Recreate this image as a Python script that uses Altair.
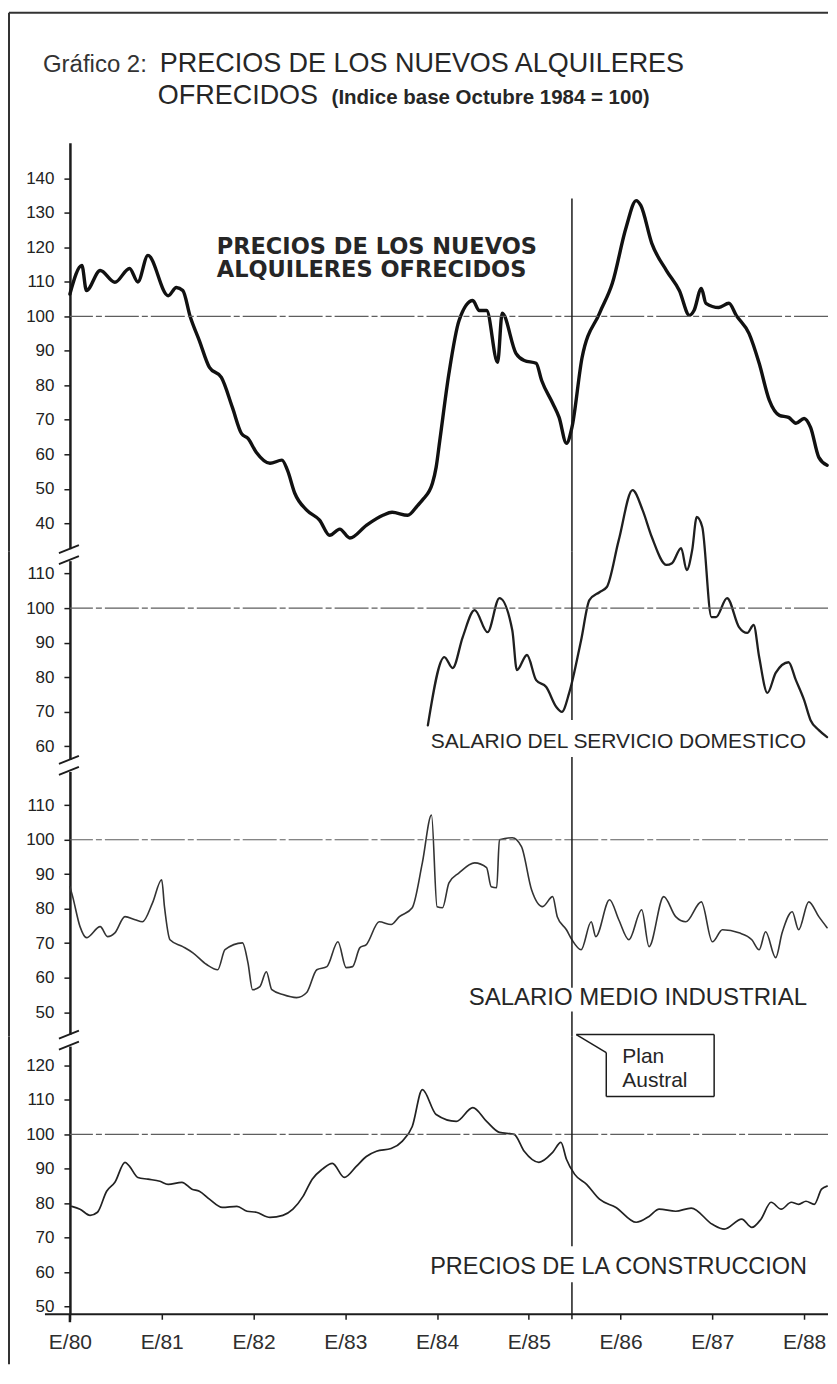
import altair as alt
import pandas as pd

# ---------------- data ----------------
year_ticks = [1980, 1981, 1982, 1983, 1984, 1985, 1986, 1987, 1988]
year_labels = ["E/80", "E/81", "E/82", "E/83", "E/84", "E/85", "E/86", "E/87", "E/88"]
plan_austral = 1985.47

alq_t = [1980.00, 1980.13, 1980.18, 1980.33, 1980.49, 1980.65, 1980.74, 1980.85, 1981.07, 1981.16,
         1981.23, 1981.31, 1981.41, 1981.52, 1981.65, 1981.77, 1981.87, 1981.94, 1982.03, 1982.18,
         1982.31, 1982.37, 1982.45, 1982.58, 1982.72, 1982.83, 1982.94, 1983.05, 1983.23, 1983.41,
         1983.51, 1983.68, 1983.79, 1983.84, 1983.95, 1983.99, 1984.03, 1984.13, 1984.24, 1984.39,
         1984.46, 1984.54, 1984.66, 1984.71, 1984.86, 1984.95, 1985.08, 1985.14, 1985.26, 1985.33,
         1985.41, 1985.47, 1985.58, 1985.77, 1985.91, 1986.06, 1986.17, 1986.22, 1986.34, 1986.50,
         1986.64, 1986.75, 1986.80, 1986.88, 1986.93, 1987.07, 1987.18, 1987.26, 1987.40, 1987.51,
         1987.62, 1987.73, 1987.83, 1987.91, 1988.00, 1988.07, 1988.16, 1988.25]
alq_v = [106.5, 114.8, 107.5, 113.3, 109.9, 113.9, 110.0, 117.7, 106.0, 108.4,
         107.5, 100.0, 93.0, 85.2, 82.3, 73.6, 66.0, 64.6, 60.6, 57.4,
         58.3, 55.4, 48.7, 43.8, 40.9, 36.5, 38.3, 35.7, 39.4, 42.3,
         43.2, 42.3, 45.2, 46.7, 51.6, 56.2, 64.0, 83.5, 98.8, 104.6,
         101.7, 101.7, 86.7, 100.9, 89.3, 87.2, 86.4, 81.4, 74.8, 70.7,
         63.2, 67.8, 88.0, 100.9, 109.6, 125.8, 133.6, 132.2, 121.2, 113.3,
         107.5, 100.3, 101.7, 108.1, 103.8, 102.6, 103.8, 100.3, 95.0, 86.4,
         75.7, 71.3, 70.7, 69.0, 70.4, 67.8, 59.1, 56.8]

dom_t = [1983.90, 1984.08, 1984.17, 1984.28, 1984.41, 1984.55, 1984.68, 1984.82, 1984.87, 1984.98,
         1985.08, 1985.19, 1985.30, 1985.36, 1985.44, 1985.57, 1985.66, 1985.77, 1985.85, 1985.98,
         1986.13, 1986.24, 1986.34, 1986.50, 1986.56, 1986.66, 1986.72, 1986.78, 1986.83, 1986.89,
         1986.99, 1987.04, 1987.16, 1987.29, 1987.38, 1987.45, 1987.51, 1987.60, 1987.69, 1987.83,
         1987.91, 1988.00, 1988.07, 1988.16, 1988.25]
dom_v = [66.0, 85.8, 82.6, 91.6, 99.4, 93.0, 102.9, 93.6, 82.0, 86.4,
         79.1, 77.1, 71.3, 69.9, 75.4, 90.7, 102.3, 104.6, 106.1, 119.7,
         134.2, 128.4, 120.6, 112.5, 113.0, 117.4, 111.0, 116.8, 126.4, 123.5,
         97.4, 97.4, 102.9, 94.5, 92.8, 95.1, 85.8, 75.4, 81.2, 84.3,
         79.1, 73.3, 67.5, 64.6, 62.6]

ind_t = [1980.00, 1980.03, 1980.11, 1980.18, 1980.33, 1980.41, 1980.49, 1980.60, 1980.71, 1980.79,
         1980.90, 1981.00, 1981.03, 1981.09, 1981.23, 1981.34, 1981.49, 1981.61, 1981.69, 1981.88,
         1981.94, 1981.99, 1982.07, 1982.14, 1982.20, 1982.32, 1982.47, 1982.58, 1982.69, 1982.80,
         1982.92, 1983.01, 1983.08, 1983.16, 1983.23, 1983.37, 1983.50, 1983.59, 1983.73, 1983.84,
         1983.94, 1984.00, 1984.06, 1984.13, 1984.24, 1984.41, 1984.54, 1984.59, 1984.65, 1984.68,
         1984.82, 1984.92, 1985.03, 1985.15, 1985.26, 1985.31, 1985.41, 1985.47, 1985.57, 1985.68,
         1985.73, 1985.88, 1985.98, 1986.09, 1986.23, 1986.31, 1986.47, 1986.60, 1986.71, 1986.88,
         1987.00, 1987.11, 1987.29, 1987.43, 1987.51, 1987.58, 1987.69, 1987.76, 1987.87, 1987.94,
         1988.05, 1988.16, 1988.25]
ind_v = [86.4, 83.5, 74.8, 71.6, 74.8, 71.9, 73.0, 77.7, 76.8, 76.2,
         81.7, 88.4, 80.6, 71.0, 69.0, 67.2, 63.8, 62.3, 68.1, 70.1,
         64.3, 56.5, 57.4, 61.7, 56.5, 55.1, 54.2, 55.7, 62.3, 63.2,
         70.4, 62.9, 63.2, 68.7, 69.6, 76.2, 75.4, 77.7, 80.3, 93.3,
         107.2, 80.6, 80.3, 87.5, 90.4, 93.3, 91.9, 86.4, 86.1, 100.0,
         100.6, 98.0, 85.5, 80.6, 83.5, 77.7, 73.9, 71.0, 68.1, 76.2,
         71.9, 82.6, 76.8, 71.0, 79.7, 69.0, 83.5, 77.7, 76.2, 82.0,
         70.4, 73.9, 73.0, 71.0, 68.1, 73.3, 65.8, 73.0, 79.1, 73.9,
         82.0, 77.7, 74.5]

con_t = [1980.02, 1980.11, 1980.22, 1980.30, 1980.40, 1980.49, 1980.60, 1980.65, 1980.74, 1980.85,
         1980.98, 1981.07, 1981.22, 1981.33, 1981.41, 1981.52, 1981.66, 1981.82, 1981.93, 1982.03,
         1982.18, 1982.32, 1982.43, 1982.54, 1982.64, 1982.75, 1982.86, 1982.99, 1983.12, 1983.23,
         1983.34, 1983.50, 1983.62, 1983.73, 1983.84, 1983.99, 1984.21, 1984.39, 1984.54, 1984.68,
         1984.84, 1984.95, 1985.11, 1985.26, 1985.35, 1985.41, 1985.50, 1985.63, 1985.77, 1985.95,
         1986.17, 1986.31, 1986.42, 1986.60, 1986.77, 1987.00, 1987.13, 1987.32, 1987.43, 1987.53,
         1987.64, 1987.75, 1987.86, 1987.94, 1988.02, 1988.11, 1988.19, 1988.25]
con_v = [79.1, 78.3, 76.5, 77.4, 83.5, 86.1, 91.9, 90.7, 87.5, 87.0,
         86.4, 85.5, 86.1, 84.1, 83.5, 81.2, 78.8, 79.1, 77.7, 77.4,
         75.9, 76.5, 78.3, 82.0, 87.0, 89.9, 91.6, 87.5, 90.7, 93.6,
         95.1, 95.9, 98.0, 102.3, 113.0, 105.8, 103.8, 107.8, 103.8, 100.6,
         100.0, 95.1, 91.9, 94.8, 97.7, 92.8, 88.4, 85.5, 81.2, 78.8,
         74.5, 76.2, 78.3, 77.7, 78.6, 73.9, 72.5, 75.4, 73.0, 75.4,
         80.3, 78.3, 80.3, 79.7, 80.6, 79.7, 84.1, 85.0]

alq_ticks = [40, 50, 60, 70, 80, 90, 100, 110, 120, 130, 140]
dom_ticks = [60, 70, 80, 90, 100, 110]
ind_ticks = [50, 60, 70, 80, 90, 100, 110]
con_ticks = [50, 60, 70, 80, 90, 100, 110, 120]

# ---------------- layout / style ----------------
FONT = "Liberation Sans"
INK = "#1c1c1c"
W = 759
X_DOMAIN = [1980.0, 1988.26]
ONE = pd.DataFrame({"o": [0]})

label_expr = "[" + ",".join("'%s'" % s for s in year_labels) + "][round(datum.value) - 1980]"


def seg(x1, y1, x2, y2, color=INK, w=1.5):
    return alt.Chart(ONE).mark_rule(color=color, strokeWidth=w).encode(
        x=alt.value(x1), y=alt.value(y1), x2=alt.value(x2), y2=alt.value(y2))


def label(text, x, y, size, align="left", weight="normal", color="#262626", font=FONT):
    return alt.Chart(ONE).mark_text(text=text, align=align, baseline="alphabetic", fontSize=size,
                                    fontWeight=weight, font=font, color=color).encode(
        x=alt.value(x), y=alt.value(y))


def core(t, v, ydom, yticks, sw, color, plan_spans, show_x=False):
    df = pd.DataFrame({"t": t, "v": v})
    xs = alt.Scale(domain=X_DOMAIN, nice=False, zero=False)
    ys = alt.Scale(domain=ydom, nice=False, zero=False)
    if show_x:
        xaxis = alt.Axis(values=year_ticks, labelExpr=label_expr, domain=False, ticks=True, tickSize=5,
                         tickWidth=1.5, tickColor=INK, labelFont=FONT, labelFontSize=21,
                         labelColor="#2e2e2e", labelPadding=12, grid=False, labelFlush=False,
                         labelOverlap=False)
    else:
        xaxis = None
    yaxis = alt.Axis(values=yticks, domain=True, domainColor=INK, domainWidth=2.5, ticks=True,
                     tickSize=6, tickWidth=1.5, tickColor=INK, labelFont=FONT, labelFontSize=17,
                     labelColor="#222222", labelPadding=10, grid=False, labelOverlap=False,
                     labelFlush=False, labelBound=False, labelSeparation=0)
    X = alt.X("t:Q", scale=xs, axis=xaxis, title=None)
    Y = alt.Y("v:Q", scale=ys, axis=yaxis, title=None)
    line = alt.Chart(df).mark_line(interpolate="monotone", strokeWidth=sw, color=color,
                                   strokeJoin="round", strokeCap="round").encode(x=X, y=Y)
    ref = alt.Chart(pd.DataFrame({"v": [100]})).mark_rule(
        color="#5e5e5e", strokeWidth=1.1, strokeDash=[34, 3, 6, 3]).encode(y=Y)
    plans = [alt.Chart(pd.DataFrame({"t": [plan_austral]})).mark_rule(color=INK, strokeWidth=1.5).encode(
        x=X, y=alt.value(a), y2=alt.value(b)) for a, b in plan_spans]
    return [line, ref] + plans


def brk():
    return [seg(0, -2, 0, 10, color="white", w=7),
            seg(-11, 2, 9, -6, w=1.8),
            seg(-11, 13, 9, 5, w=1.8)]


# Panel 1: alquileres
H1 = 409
p1 = alt.layer(
    *core(alq_t, alq_v, [31.9, 150.4], alq_ticks, 3.4, "#111111", [(56, H1)]),
    label("Gráfico 2:", -27, -71, 24, color="#333333"),
    label("PRECIOS DE LOS NUEVOS ALQUILERES", 90, -71, 27),
    label("OFRECIDOS", 88, -39, 27),
    label("(Indice base Octubre 1984 = 100)", 262, -39, 20.5, weight="bold"),
    label("PRECIOS DE LOS NUEVOS", 147, 111, 22.5, weight="bold", font="DejaVu Sans"),
    label("ALQUILERES OFRECIDOS", 147, 135, 22.5, weight="bold", font="DejaVu Sans"),
    seg(-61, -130, W, -130, color="#333333", w=2),
    seg(-61, -130, -61, H1, color="#333333", w=2),
).properties(width=W, height=H1)

# Panel 2: servicio domestico
H2 = 211
p2 = alt.layer(
    *core(dom_t, dom_v, [55.4, 116.5], dom_ticks, 2.3, "#1f1f1f", [(0, 169), (206, H2)]),
    label("SALARIO DEL SERVICIO DOMESTICO", 737, 197, 21, align="right"),
    seg(-61, 0, -61, H2, color="#333333", w=2),
    *brk(),
).properties(width=W, height=H2)

# Panel 3: salario medio industrial
H3 = 275
p3 = alt.layer(
    *core(ind_t, ind_v, [42.9, 122.6], ind_ticks, 1.6, "#333333", [(0, 226), (250, H3)]),
    label("SALARIO MEDIO INDUSTRIAL", 738, 243, 24, align="right"),
    seg(-61, 0, -61, H3, color="#333333", w=2),
    *brk(),
).properties(width=W, height=H3)

# Panel 4: precios de la construccion
H4 = 278
p4 = alt.layer(
    *core(con_t, con_v, [47.8, 128.4], con_ticks, 1.7, "#222222", [(0, 210), (246, H4 + 5)], show_x=True),
    label("PRECIOS DE LA CONSTRUCCION", 738, 238, 23.5, align="right"),
    seg(507, -2, 645, -2), seg(645, -2, 645, 60), seg(645, 60, 537, 60),
    seg(537, 60, 537, 16), seg(537, 16, 507, -2),
    label("Plan", 553, 26, 21),
    label("Austral", 553, 50, 21),
    seg(-25, H4, W, H4, w=1.8),
    seg(0, H4, 0, H4 + 8, w=2.5),
    seg(-61, 0, -61, 328, color="#333333", w=2),
    *brk(),
).properties(width=W, height=H4)

chart = alt.vconcat(p1, p2, p3, p4, spacing=0, bounds="flush").properties(
    padding={"left": 0, "top": 3, "right": 0, "bottom": 0},
    background="white",
).configure_view(stroke=None)

chart.save("out.html", embed_options={"renderer": "svg", "actions": False})
